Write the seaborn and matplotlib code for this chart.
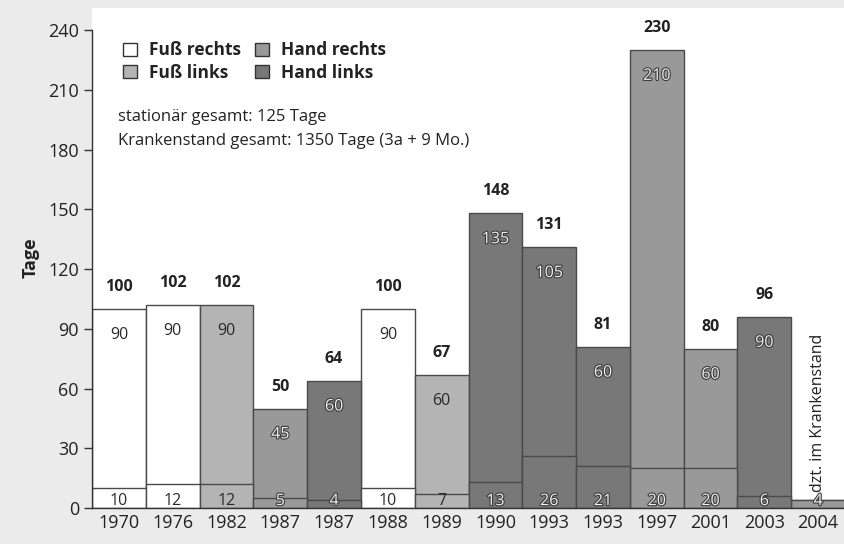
import numpy as np
import pandas as pd
import matplotlib
matplotlib.use("Agg")
import matplotlib.pyplot as plt
import matplotlib.patheffects as pe
from matplotlib.patches import Patch
from matplotlib.ticker import FixedLocator
import seaborn as sns

# Daten aus der Abbildung
jahre = ['1970', '1976', '1982', '1987', '1987', '1988', '1989',
         '1990', '1993', '1993', '1997', '2001', '2003', '2004']
stationaer = [10, 12, 12, 5, 4, 10, 7, 13, 26, 21, 20, 20, 6, 4]
krankenstand = [90, 90, 90, 45, 60, 90, 60, 135, 105, 60, 210, 60, 90, 0]
verletzung = ['Fuß rechts', 'Fuß rechts', 'Fuß links', 'Hand rechts', 'Hand links',
              'Fuß rechts', 'Fuß links', 'Hand links', 'Hand links', 'Hand links',
              'Hand rechts', 'Hand rechts', 'Hand links', 'Hand rechts']
kategorien = ['Fuß rechts', 'Fuß links', 'Hand rechts', 'Hand links']
farben = {'Fuß rechts': '#ffffff', 'Fuß links': '#b4b4b4',
          'Hand rechts': '#999999', 'Hand links': '#787878'}

df = pd.DataFrame({
    'pos': np.arange(len(jahre)),
    'jahr': jahre,
    'stationaer': stationaer,
    'krankenstand': krankenstand,
    'verletzung': verletzung,
})
df['gesamt'] = df['stationaer'] + df['krankenstand']

sns.set_theme(style='white')
plt.rcParams['font.family'] = ['Open Sans', 'DejaVu Sans']

fig = plt.figure(figsize=(8.45, 5.44), dpi=100)
fig.patch.set_facecolor('#ebebeb')
ax = fig.add_axes([0.109, 0.066, 0.891, 0.919])
ax.set_facecolor('white')

kanten = '#4a4a4a'
sns.barplot(data=df, x='pos', y='gesamt', hue='verletzung', palette=farben,
            hue_order=kategorien, dodge=False, width=1.0, edgecolor=kanten,
            linewidth=1.0, legend=False, ax=ax)
sns.barplot(data=df, x='pos', y='stationaer', hue='verletzung', palette=farben,
            hue_order=kategorien, dodge=False, width=1.0, edgecolor=kanten,
            linewidth=1.0, legend=False, ax=ax)

halo = [pe.withStroke(linewidth=1.6, foreground='#3a3a3a')]
for _, r in df.iterrows():
    hell = r['verletzung'] in ('Hand rechts', 'Hand links')
    kw = dict(color='#f2f2f2', path_effects=halo) if hell else dict(color='#2a2a2a')
    if r['krankenstand'] > 0:
        ax.text(r['pos'], r['gesamt'] + 11, str(r['gesamt']), ha='center', va='center',
                fontsize=11.5, fontweight='bold', color='#222222')
        ax.text(r['pos'], r['gesamt'] - 13, str(r['krankenstand']), ha='center',
                va='center', fontsize=11.5, **kw)
    ax.text(r['pos'], 3.5, str(r['stationaer']), ha='center', va='center',
            fontsize=11.5, **kw)

ax.text(13, 8, 'dzt. im Krankenstand', rotation=90, ha='center', va='bottom',
        fontsize=11.5, color='#222222')

ax.set_xlim(-0.5, len(jahre) - 0.5)
ax.set_ylim(0, 251)
ax.set_yticks(range(0, 241, 30))
ax.set_xticks(df['pos'])
ax.set_xticklabels(jahre)
ax.xaxis.set_minor_locator(FixedLocator(np.arange(-0.5, len(jahre), 1.0)))
ax.tick_params(axis='x', which='major', length=0, pad=4, labelsize=13, labelcolor='#222222')
ax.tick_params(axis='x', which='minor', length=5, width=1, color='#333333', direction='out')
ax.tick_params(axis='y', length=6, width=1, color='#333333', direction='out',
               labelsize=13, labelcolor='#222222', left=True)
ax.set_xlabel('')
ax.set_ylabel('Tage', fontsize=13, fontweight='bold', color='#222222', labelpad=6)

for s in ['top', 'right']:
    ax.spines[s].set_visible(False)
for s in ['left', 'bottom']:
    ax.spines[s].set_color('#333333')
    ax.spines[s].set_linewidth(1.0)
ax.spines['left'].set_bounds(0, 240)

handles = [Patch(facecolor=farben[k], edgecolor='#333333', linewidth=1.0) for k in kategorien]
ax.legend(handles, kategorien, ncol=2, loc='upper left', bbox_to_anchor=(0.02, 0.965),
          frameon=False, handlelength=0.8, handleheight=0.8, handletextpad=0.7,
          columnspacing=0.8, labelspacing=0.25,
          prop={'size': 12.5, 'weight': 'bold'}, labelcolor='#222222')

ax.text(0.035, 0.782, 'stationär gesamt: 125 Tage', transform=ax.transAxes,
        fontsize=12, va='center', color='#222222')
ax.text(0.035, 0.734, 'Krankenstand gesamt: 1350 Tage (3a + 9 Mo.)', transform=ax.transAxes,
        fontsize=12, va='center', color='#222222')

fig.savefig('out.png', dpi=100, facecolor=fig.get_facecolor())
